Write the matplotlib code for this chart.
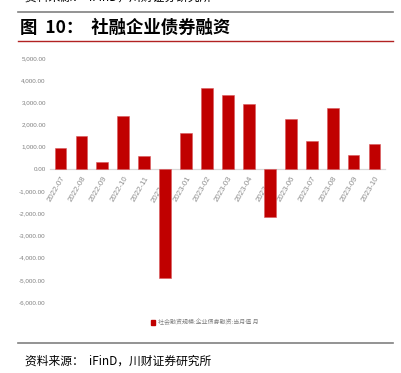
import matplotlib
matplotlib.use("Agg")
import matplotlib.pyplot as plt
from matplotlib.lines import Line2D
from matplotlib.patches import Rectangle

plt.rcParams['font.family'] = ['Noto Sans CJK SC', 'DejaVu Sans']

months = ["2022-07", "2022-08", "2022-09", "2022-10", "2022-11", "2022-12",
          "2023-01", "2023-02", "2023-03", "2023-04", "2023-05", "2023-06",
          "2023-07", "2023-08", "2023-09", "2023-10"]
values = [946, 1486, 315, 2400, 585, -4896, 1622, 3649, 3333, 2928, -2162,
          2234, 1261, 2761, 613, 1140]
yticks = [5000, 4000, 3000, 2000, 1000, 0, -1000, -2000, -3000, -4000, -5000, -6000]
legend_label = "社会融资规模:企业债券融资:当月值 月"
title = "图  10：  社融企业债券融资"
source = "资料来源：  iFinD，川财证券研究所"

W, H = 402, 373
fig = plt.figure(figsize=(W / 100, H / 100), dpi=100)
ax = fig.add_axes([50 / W, 1 - 302 / H, 335 / W, 244 / H])

x = list(range(len(months)))
ax.bar(x, values, width=0.56, color="#C00000", edgecolor="#D9585C",
       linewidth=0.4, zorder=2)
ax.set_xlim(-0.5, len(months) - 0.5)
ax.set_ylim(-6000, 5000)
ax.set_axisbelow(True)

for s in ['top', 'right', 'left']:
    ax.spines[s].set_visible(False)
ax.spines['bottom'].set_position(('data', 0))
ax.spines['bottom'].set_color("#D9D9D9")
ax.spines['bottom'].set_linewidth(0.9)
ax.spines['bottom'].set_zorder(1)

tick_family = ['Liberation Sans Narrow', 'Liberation Sans', 'DejaVu Sans']
ax.set_yticks(yticks)
ax.set_yticklabels([f"{v:,.2f}" for v in yticks], fontsize=4.5, color="#7F7F7F",
                   family=tick_family)
ax.tick_params(axis='y', length=0, pad=3)

ax.set_xticks(x)
ax.set_xticklabels(months, rotation=60, ha='right', va='top',
                   rotation_mode='anchor', fontsize=5.6, color="#8C8C8C",
                   family=tick_family)
ax.tick_params(axis='x', length=0, pad=4.5)

# legend
fig.patches.append(Rectangle((151 / W, 1 - 324.5 / H), 4.5 / W, 5 / H,
                             transform=fig.transFigure, color="#C00000"))
fig.text(158 / W, 1 - 322 / H, legend_label, fontsize=4.3, color="#7F7F7F",
         va='center', ha='left')

# header / footer decorations
fig.add_artist(Line2D([18 / W, 393 / W], [1 - 12.3 / H, 1 - 12.3 / H],
                      color="#808080", linewidth=1.2))
fig.add_artist(Line2D([18 / W, 393 / W], [1 - 41.3 / H, 1 - 41.3 / H],
                      color="#B22222", linewidth=1.0))
fig.add_artist(Line2D([18 / W, 393 / W], [1 - 343.3 / H, 1 - 343.3 / H],
                      color="#808080", linewidth=1.2))

fig.text(20 / W, 1 - 27.5 / H, title, fontsize=12.5, fontweight='bold',
         color="#000000", va='center', ha='left')
fig.text(25 / W, 1 - 361.5 / H, source, fontsize=8.5, color="#000000",
         va='center', ha='left', style='italic')
fig.text(25 / W, 1 + 3 / H, source, fontsize=8.5, color="#000000",
         va='center', ha='left', style='italic')

fig.savefig("out.png", dpi=100)
